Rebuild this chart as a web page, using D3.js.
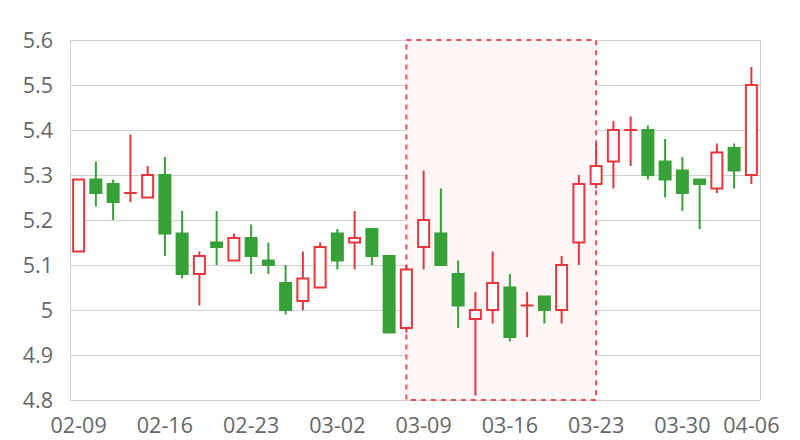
<!DOCTYPE html>
<html><head><meta charset="utf-8">
<script src="https://cdn.jsdelivr.net/npm/d3@7/dist/d3.min.js"></script>
<style>body{margin:0;background:#fff}svg{display:block}</style>
</head><body><svg id="c" width="800" height="440"></svg>
<script>
const dates = ["02-09","02-10","02-11","02-12","02-13","02-16","02-17","02-18","02-19","02-20",
"02-23","02-24","02-25","02-26","02-27","03-02","03-03","03-04","03-05","03-06",
"03-09","03-10","03-11","03-12","03-13","03-16","03-17","03-18","03-19","03-20",
"03-23","03-24","03-25","03-26","03-27","03-30","03-31","04-01","04-02","04-06"];
const open  = [5.13,5.29,5.28,5.26,5.25,5.30,5.17,5.08,5.15,5.11,5.16,5.11,5.06,5.02,5.05,5.17,5.15,5.18,5.12,4.96,
5.14,5.17,5.08,4.98,5.00,5.05,5.01,5.03,5.00,5.15,5.28,5.33,5.40,5.40,5.33,5.31,5.29,5.27,5.36,5.30];
const close = [5.29,5.26,5.24,5.26,5.30,5.17,5.08,5.12,5.14,5.16,5.12,5.10,5.00,5.07,5.14,5.11,5.16,5.12,4.95,5.09,
5.20,5.10,5.01,5.00,5.06,4.94,5.01,5.00,5.10,5.28,5.32,5.40,5.40,5.30,5.29,5.26,5.28,5.35,5.31,5.50];
const high  = [5.29,5.33,5.29,5.39,5.32,5.34,5.22,5.13,5.22,5.17,5.19,5.15,5.10,5.13,5.15,5.18,5.22,5.18,5.12,5.10,
5.31,5.27,5.11,5.04,5.13,5.08,5.04,5.03,5.12,5.30,5.37,5.42,5.43,5.41,5.38,5.34,5.29,5.37,5.37,5.54];
const low   = [5.13,5.23,5.20,5.24,5.25,5.12,5.07,5.01,5.10,5.11,5.08,5.08,4.99,5.00,5.05,5.09,5.09,5.10,4.95,4.95,
5.09,5.10,4.96,4.81,4.97,4.93,4.94,4.97,4.97,5.10,5.27,5.27,5.32,5.29,5.25,5.22,5.18,5.26,5.27,5.28];
const yTicks = [4.8,4.9,5,5.1,5.2,5.3,5.4,5.5,5.6];
const xTickLabels = ["02-09","02-16","02-23","03-02","03-09","03-16","03-23","03-30","04-06"];
const markRange = ["03-06","03-23"];

const RED = "#e8363e", GREEN = "#37a038", TXT = "#666666", GRID = "#d0d0d0";
const FONT = "21.5px 'Open Sans', sans-serif";
const svg = d3.select("#c");
const L = 70, R = 760, T = 40, B = 400;
const x = d3.scaleBand().domain(dates).range([L, R]).paddingInner(0).paddingOuter(0);
const y = d3.scaleLinear().domain([4.8, 5.6]).range([B, T]);
const cx = d => x(d) + x.bandwidth() / 2;
const bw = 11;

// grid
svg.append("g").selectAll("line").data(yTicks).join("line")
  .attr("x1", L).attr("x2", R).attr("y1", d => y(d)).attr("y2", d => y(d))
  .attr("stroke", GRID).attr("stroke-width", 1).attr("shape-rendering", "crispEdges");
[L, R].forEach(xx => svg.append("line").attr("x1", xx).attr("x2", xx).attr("y1", T).attr("y2", B)
  .attr("stroke", GRID).attr("shape-rendering", "crispEdges"));

// y labels
svg.append("g").selectAll("text").data(yTicks).join("text")
  .attr("x", 53).attr("y", d => y(d) + 8)
  .attr("text-anchor", "end").attr("fill", TXT)
  .style("font", FONT)
  .text(d => d3.format("")(d));

// x labels
svg.append("g").selectAll("text").data(xTickLabels).join("text")
  .attr("x", d => cx(d)).attr("y", 433)
  .attr("text-anchor", "middle").attr("fill", TXT)
  .style("font", FONT)
  .text(d => d);

// mark area
const mx0 = cx(markRange[0]), mx1 = cx(markRange[1]);
svg.append("rect").attr("x", mx0).attr("y", T).attr("width", mx1 - mx0).attr("height", B - T)
  .attr("fill", "#fff6f6").attr("stroke", "#ef4f57").attr("stroke-width", 2)
  .attr("stroke-dasharray", "5,5");

// candles
const idx = d3.range(dates.length);
const g = svg.append("g");
idx.forEach(i => {
  const up = close[i] >= open[i];
  const c = cx(dates[i]);
  const top = y(Math.max(open[i], close[i])), bot = y(Math.min(open[i], close[i]));
  const col = up ? RED : GREEN;
  if (high[i] > Math.max(open[i], close[i]))
    g.append("line").attr("x1", c).attr("x2", c).attr("y1", y(high[i])).attr("y2", top)
      .attr("stroke", col).attr("stroke-width", 2);
  if (low[i] < Math.min(open[i], close[i]))
    g.append("line").attr("x1", c).attr("x2", c).attr("y1", bot).attr("y2", y(low[i]))
      .attr("stroke", col).attr("stroke-width", 2);
  if (bot - top < 1) {
    g.append("line").attr("x1", c - bw / 2 - 1).attr("x2", c + bw / 2 + 1).attr("y1", top).attr("y2", top)
      .attr("stroke", col).attr("stroke-width", 2);
  } else if (up) {
    g.append("rect").attr("x", c - bw / 2).attr("y", top).attr("width", bw).attr("height", bot - top)
      .attr("fill", "#fff").attr("stroke", col).attr("stroke-width", 2);
  } else {
    g.append("rect").attr("x", c - bw / 2 - 1).attr("y", top - 1).attr("width", bw + 2).attr("height", bot - top + 2)
      .attr("fill", col);
  }
});
</script></body></html>
